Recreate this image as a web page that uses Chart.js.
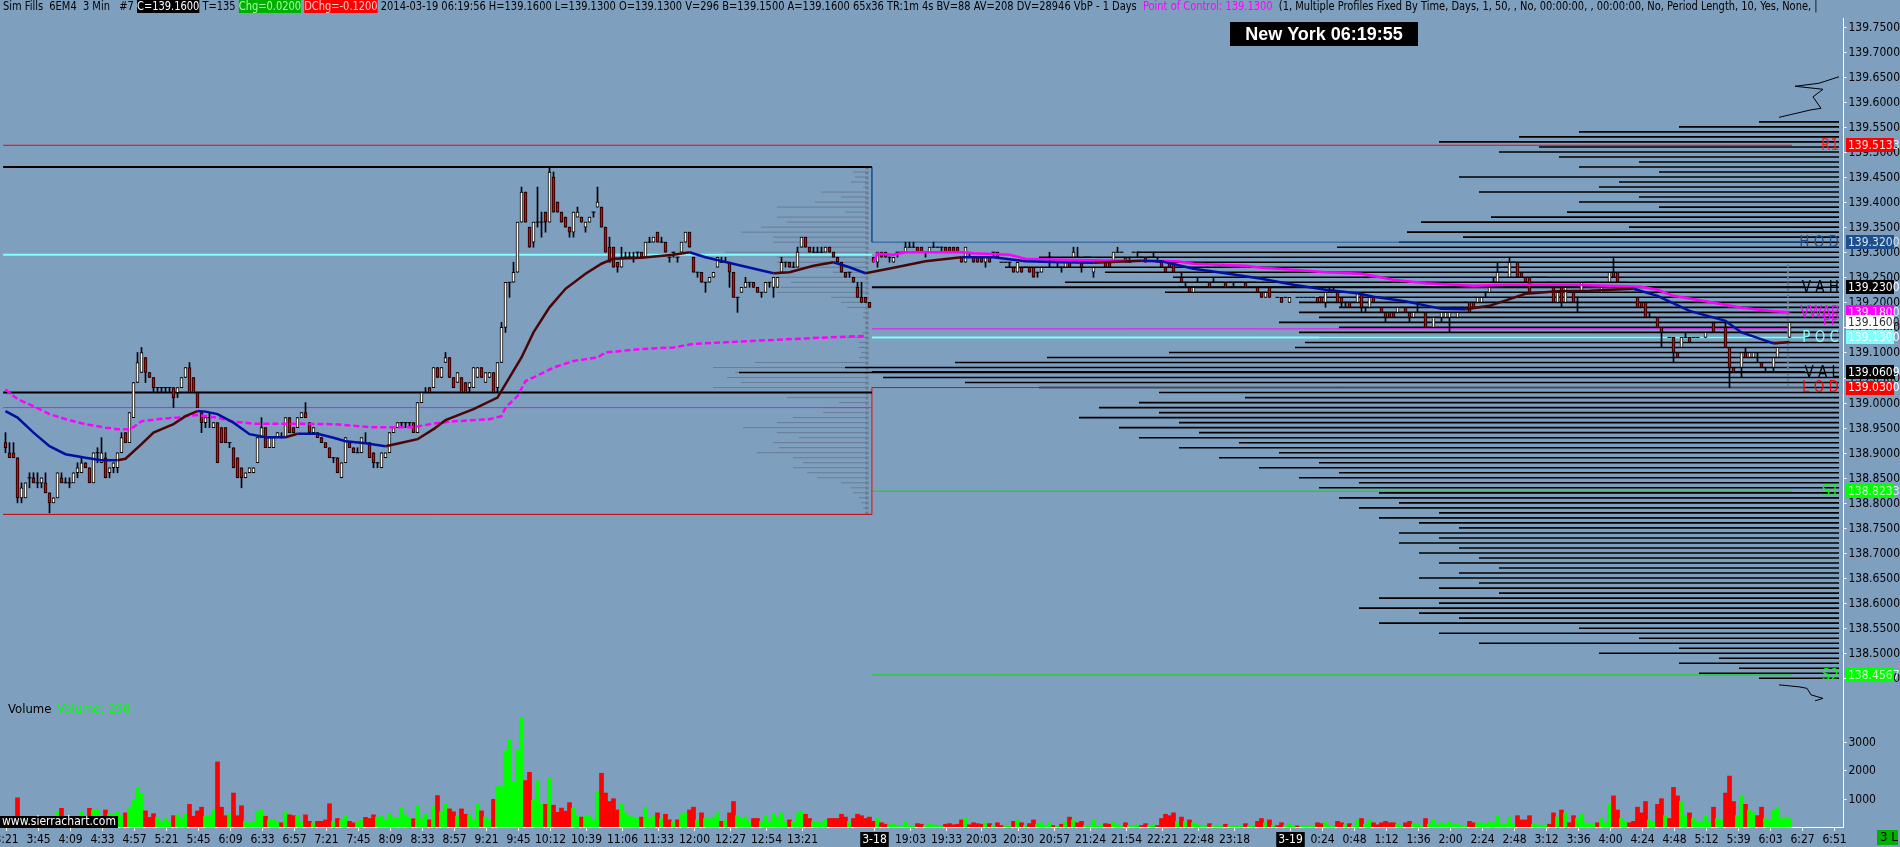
<!DOCTYPE html>
<html>
<head>
<meta charset="utf-8">
<script src="https://cdn.jsdelivr.net/npm/chart.js@4.4.1/dist/chart.umd.min.js"></script>
<style>
  html, body { margin: 0; padding: 0; background: #7f9fbf; }
  canvas { display: block; }
</style>
</head>
<body>
<canvas id="chart" width="1900" height="847"></canvas>
<script>
// prices are kept in 0.01 steps above (or below) 139.00
const BASE = 139.00;

// session 1 bars, [open, close, high, low]
const bars1 = [
  [-8,-9,-6,-10],[-10,-11,-8,-11],[-10,-11,-8,-11],[-11,-19,-11,-20],[-19,-17,-16,-20],[-19,-16,-16,-19],[-15,-15,-14,-17],[-15,-16,-14,-16],[-16,-16,-14,-17],[-16,-15,-15,-17],
  [-16,-18,-14,-18],[-18,-20,-18,-22],[-20,-19,-19,-20],[-19,-14,-14,-19],[-15,-16,-14,-16],[-16,-16,-15,-16],[-16,-16,-15,-17],[-16,-14,-14,-16],[-14,-13,-12,-15],[-14,-12,-11,-14],
  [-12,-13,-12,-13],[-13,-16,-13,-16],[-16,-10,-10,-16],[-10,-10,-9,-12],[-12,-10,-7,-12],[-11,-15,-10,-15],[-14,-13,-13,-15],[-13,-12,-12,-14],[-13,-10,-10,-14],[-10,-7,-6,-10],
  [-6,-8,-6,-8],[-8,-2,-2,-8],[-3,4,4,-3],[4,8,10,4],[6,10,11,6],[9,6,9,4],[6,5,6,5],[5,3,5,2],[3,3,3,2],[3,3,3,2],
  [3,3,3,2],[3,3,3,2],[3,1,3,-1],[2,3,3,1],[3,5,5,3],[5,7,7,5],[7,2,8,2],[5,2,5,2],[2,-1,2,-1],[-2,-4,-2,-6],
  [-4,-3,-3,-5],[-3,-3,-2,-5],[-5,-4,-4,-5],[-4,-12,-4,-12],[-5,-8,-5,-8],[-5,-8,-5,-8],[-8,-8,-8,-9],[-9,-13,-9,-13],[-11,-15,-11,-15],[-13,-15,-13,-17],
  [-15,-14,-14,-15],[-14,-13,-13,-14],[-14,-13,-13,-14],[-12,-7,-7,-12],[-7,-5,-3,-7],[-5,-9,-5,-9],[-9,-7,-7,-9],[-9,-7,-7,-9],[-7,-6,-6,-7],[-7,-7,-6,-7],
  [-7,-3,-3,-7],[-3,-6,-3,-6],[-5,-6,-5,-6],[-5,-3,-3,-5],[-3,-2,-2,-3],[-2,-3,0,-3],[-4,-6,-4,-6],[-6,-5,-5,-6],[-6,-7,-6,-7],[-7,-8,-7,-8],
  [-8,-9,-8,-9],[-9,-11,-9,-11],[-11,-11,-11,-12],[-11,-14,-11,-14],[-15,-12,-12,-15],[-12,-7,-7,-12],[-8,-9,-8,-9],[-9,-10,-9,-10],[-10,-10,-9,-10],[-10,-7,-7,-10],
  [-8,-8,-6,-8],[-8,-11,-8,-11],[-10,-12,-10,-13],[-12,-12,-12,-13],[-13,-10,-10,-13],[-11,-10,-10,-11],[-10,-6,-6,-10],[-6,-5,-5,-6],[-5,-4,-4,-5],[-4,-4,-4,-5],
  [-4,-4,-4,-5],[-4,-4,-4,-5],[-4,-6,-4,-6],[-6,0,0,-6],[0,2,2,0],[2,2,3,2],[3,2,3,2],[3,7,7,3],[7,5,7,5],[5,7,7,5],
  [8,9,10,8],[9,5,9,5],[5,3,5,3],[4,6,6,4],[5,2,5,2],[4,2,4,2],[3,4,4,2],[3,7,7,3],[5,7,7,5],[7,5,7,5],
  [4,6,6,4],[5,6,6,5],[6,2,6,2],[3,8,8,2],[8,15,16,8],[15,24,24,14],[24,24,24,21],[24,26,28,24],[26,36,36,26],[36,42,43,36],
  [42,36,42,36],[35,31,35,31],[32,36,36,31],[36,36,43,35],[36,36,38,33],[38,36,38,34],[36,46,47,36],[45,38,46,38],[40,38,40,38],[38,36,38,36],
  [37,35,37,35],[35,34,35,33],[34,38,38,33],[37,38,39,37],[37,36,37,36],[35,36,36,34],[36,37,37,36],[38,38,38,37],[39,40,43,39],[39,35,39,35],
  [35,30,35,30],[31,28,33,28],[31,27,31,27],[28,27,28,26],[27,29,31,27],[29,29,30,29],[29,29,30,29],[29,29,30,28],[30,30,30,29],[30,29,30,29],
  [29,32,32,29],[32,32,33,32],[32,33,33,32],[34,32,34,32],[32,32,33,32],[32,30,32,30],[29,29,29,28],[30,30,30,29],[29,29,29,28],[30,32,32,30],
  [32,34,34,32],[34,31,34,31],[29,26,29,26],[26,26,26,25],[26,24,26,24],[24,24,24,22],[24,25,25,24],[25,26,26,25],[27,29,29,27],[28,28,29,28],
  [28,28,29,28],[28,26,28,23],[26,21,26,21],[21,21,21,18],[22,23,23,22],[23,24,25,23],[24,24,24,23],[24,23,24,23],[23,22,23,22],[22,22,22,21],
  [22,24,24,22],[24,24,24,23],[23,25,25,21],[23,25,25,23],[26,28,29,26],[28,28,28,27],[28,27,28,27],[27,27,28,27],[27,30,31,27],[31,33,33,31],
  [33,31,33,31],[31,30,31,30],[30,30,31,30],[30,30,31,30],[30,30,31,30],[30,31,31,30],[31,30,31,30],[30,29,30,29],[29,28,29,28],[28,26,28,26],
  [26,25,26,25],[26,26,26,25],[25,24,25,24],[23,21,24,21],[21,20,24,20],[21,20,21,20],[20,19,20,19]
];

// session 2 bars (3-18 evening to 3-19 morning), [open, close, high, low]
const bars2 = [
  [29,28,29,28],[28,30,30,27],[30,29,30,29],[30,29,30,29],[29,29,29,28],[28,29,29,28],[30,30,30,29],[30,30,30,30],[30,31,32,30],[31,31,32,31],
  [31,31,32,31],[31,30,31,30],[31,30,31,30],[30,30,30,29],[30,31,31,30],[31,31,32,31],[31,31,31,31],[31,31,31,30],[31,30,31,30],[31,30,31,30],
  [31,30,31,30],[31,30,31,30],[29,28,29,28],[28,31,31,28],[29,29,30,29],[29,28,29,28],[29,28,29,28],[29,28,29,28],[28,29,29,27],[29,28,29,28],
  [30,30,30,29],[30,29,30,29],[28,28,28,28],[28,28,28,28],[28,28,28,27],[27,26,27,26],[26,28,28,26],[27,26,27,26],[27,27,27,27],[27,26,27,26],
  [27,25,27,25],[26,26,26,25],[26,27,27,26],[28,28,28,28],[29,29,30,27],[28,28,28,28],[28,28,28,27],[27,27,27,26],[27,28,28,27],[28,27,28,27],
  [29,30,31,29],[29,29,31,29],[28,27,28,26],[29,29,29,29],[29,29,29,29],[26,27,27,25],[28,28,28,28],[28,28,28,28],[28,27,28,27],[28,27,28,27],
  [28,30,30,28],[30,30,31,30],[30,30,30,30],[29,28,29,28],[28,28,29,28],[30,30,30,30],[30,30,30,29],[29,29,29,29],[29,28,29,28],[29,29,29,29],
  [29,29,30,29],[28,28,29,28],[28,27,28,27],[27,26,27,26],[28,27,28,27],[28,26,28,26],[28,28,28,28],[25,24,26,24],[24,24,24,23],[23,22,23,22],
  [22,23,23,22],[24,24,25,24],[24,24,24,24],[24,24,24,24],[24,23,24,23],[24,24,25,24],[24,24,24,24],[24,24,24,24],[24,23,24,23],[24,24,24,24],
  [24,24,24,23],[24,24,24,24],[24,24,24,24],[24,23,24,23],[24,24,24,24],[24,24,24,24],[23,22,23,22],[22,21,22,21],[21,22,22,21],[23,21,23,21],
  [22,22,22,22],[21,21,21,21],[21,20,21,20],[21,21,21,21],[20,21,21,20],[22,22,22,22],[21,21,21,21],[21,21,21,21],[21,21,21,21],[21,21,21,21],
  [21,21,21,21],[21,20,21,20],[21,20,21,20],[20,22,22,19],[22,22,23,22],[22,22,23,22],[22,20,22,20],[21,20,21,19],[20,20,20,19],[20,19,20,19],
  [20,20,20,20],[20,22,22,20],[22,19,22,18],[19,19,19,18],[19,21,21,19],[21,20,21,20],[19,19,19,19],[19,18,19,18],[18,17,18,16],[18,17,18,17],
  [18,17,18,17],[18,19,19,18],[19,19,19,19],[19,18,19,18],[18,17,18,16],[17,18,18,17],[18,18,20,18],[18,18,18,18],[18,15,18,15],[15,15,15,15],
  [15,17,17,15],[17,17,17,17],[17,18,18,16],[17,18,18,17],[17,18,18,14],[19,19,19,19],[17,18,18,17],[19,19,19,19],[20,20,20,20],[20,18,20,18],
  [20,19,20,19],[20,21,21,20],[20,21,21,20],[22,22,22,21],[22,23,23,22],[24,24,25,24],[24,26,28,24],[26,26,26,26],[27,27,27,27],[25,28,29,25],
  [28,28,28,28],[28,25,28,25],[26,25,26,25],[25,24,25,24],[25,22,25,22],[25,25,25,25],[25,25,25,25],[25,25,25,25],[25,25,25,25],[24,24,24,24],
  [23,20,23,20],[20,22,22,20],[23,20,23,19],[20,23,23,20],[22,22,22,22],[22,20,22,20],[21,21,21,18],[22,24,24,22],[24,24,24,24],[24,24,24,24],
  [24,24,24,24],[23,23,23,23],[22,23,23,22],[23,23,23,23],[24,26,26,24],[26,25,29,25],[26,24,26,24],[24,24,24,24],[24,24,24,24],[23,23,23,23],
  [22,22,22,22],[21,19,21,19],[20,19,20,19],[20,17,20,17],[17,17,18,17],[17,17,17,17],[17,15,17,15],[15,14,15,11],[14,14,14,14],[13,13,13,13],
  [13,10,13,8],[10,9,10,9],[11,13,13,11],[13,13,14,13],[13,12,13,12],[13,13,13,13],[13,13,13,13],[14,14,14,14],[13,14,14,13],[14,14,14,14],
  [16,14,16,14],[14,14,14,14],[15,15,15,15],[15,11,16,11],[11,7,11,3],[7,6,7,6],[7,7,7,7],[7,10,10,5],[10,9,11,9],[9,10,10,9],
  [9,10,10,9],[9,9,10,8],[8,7,8,7],[7,7,7,6],[7,7,7,7],[7,9,9,6],[9,11,11,9],[15,15,15,15],[15,15,15,15],[13,16,16,13]
];

// volume per bar
const vol1 = [
  200,250,300,1030,300,250,200,150,150,200, 250,350,200,520,660,200,150,300,250,520,
  200,660,600,600,350,600,460,460,540,400, 500,700,950,1370,1180,570,340,470,340,200,
  300,200,400,430,300,460,800,380,570,700, 380,380,600,2300,700,400,450,1200,400,750,
  200,150,200,560,600,380,250,250,200,150, 520,430,400,380,200,430,200,150,200,200,
  250,820,200,300,250,400,200,150,200,250, 340,300,430,350,380,250,460,350,320,660,
  430,320,290,740,300,460,250,720,1110,540, 820,640,540,380,640,450,430,250,800,570,
  350,250,980,1430,1430,2700,3080,1600,2720,3850, 1640,1930,950,1630,800,800,1730,770,520,670,
  560,860,660,400,350,380,380,250,1250,1900, 1200,900,1000,600,800,500,400,350,300,350,
  700,300,400,500,300,450,250,200,250,450, 500,600,700,250,500,300,300,350,500,200,
  250,500,900,400,300,350,200,300,300,200, 400,200,450,350,500,200,250,200,500,550,
  450,300,200,200,150,250,300,300,300,450, 350,200,300,450,400,300,350
];
const vol2 = [
  200,300,150,100,80,120,60,50,200,60, 60,120,100,60,120,80,50,60,100,120,
  80,100,250,300,80,150,120,100,150,120, 60,150,50,40,60,200,250,150,60,120,
  250,100,150,60,150,50,60,100,200,350, 250,150,200,60,50,250,60,80,120,100,
  200,80,50,150,60,50,80,50,120,60, 80,50,300,450,400,500,200,350,200,250,
  150,80,60,50,120,60,50,40,100,50, 60,40,40,120,50,40,200,300,150,250,
  60,50,150,60,100,50,40,40,50,40, 40,150,120,200,60,60,200,150,80,120,
  60,250,300,100,250,150,80,150,200,150, 150,100,60,150,200,100,120,60,300,100,
  250,80,150,100,200,80,100,60,60,200, 150,150,150,100,200,150,400,100,100,350,
  100,400,250,250,400,100,80,60,80,100, 500,350,600,500,150,400,300,450,150,100,
  100,150,300,150,800,1100,600,300,200,150, 200,700,500,900,250,200,800,1000,400,300,
  1400,1100,900,400,500,300,200,200,400,200, 700,300,250,1200,1800,900,400,1100,800,600,
  500,400,700,300,250,600,700,300,350,296
];

// moving average (bar, price)
const emaBars = [0,3,7,11,15,20,24,28,30,34,37,42,45,48,50,53,57,61,65,70,73,78,82,85,90,95,99,103,107,110,117,123,125,129,132,136,140,145,149,152,159,167,171,175,184,192,196,202,207,211,215,
  222,230,239,247,255,264,272,284,289,297,305,314,322,330,338,342,350,359,365,371,380,388,396,407,413,421,430,434,442,446];
const emaValues = [138.983,138.97,138.94,138.913,138.897,138.89,138.885,138.885,138.888,138.917,138.94,138.957,138.973,138.983,138.982,138.977,138.96,138.937,138.931,138.931,138.938,138.938,138.93,138.923,138.919,138.913,138.92,138.927,138.947,138.965,138.987,139.01,139.037,139.09,139.14,139.19,139.227,139.257,139.277,139.287,139.289,139.295,139.3,139.29,139.273,139.258,139.26,139.273,139.28,139.27,139.258,
  139.269,139.282,139.29,139.29,139.282,139.28,139.279,139.283,139.282,139.267,139.258,139.247,139.235,139.225,139.218,139.211,139.202,139.187,139.186,139.193,139.217,139.222,139.223,139.227,139.213,139.183,139.163,139.14,139.118,139.121];

// VWAP per session (bar, price)
const vwap1Bars = [0,3,7,11,15,20,25,28,31,32,34,38,43,45,48,53,57,62,70,82,91,102,107,111,121,124,125,128,130,134,137,142,148,150,159,167,172,184,192,200,215];
const vwap1Values = [139.026,139.007,138.993,138.977,138.967,138.957,138.95,138.947,138.947,138.951,138.963,138.967,138.97,138.973,138.975,138.97,138.962,138.958,138.958,138.957,138.951,138.951,138.958,138.962,138.967,138.973,138.99,139.013,139.043,139.058,139.07,139.083,139.09,139.1,139.107,139.11,139.117,139.122,139.125,139.128,139.133];
const vwap2Bars = [217,218,222,225,239,242,251,255,264,280,293,297,310,314,322,330,339,347,355,367,375,392,409,413,417,425,434,442,446];
const vwap2Values = [139.28,139.297,139.295,139.3,139.3,139.298,139.295,139.287,139.285,139.283,139.282,139.277,139.273,139.269,139.265,139.26,139.257,139.245,139.238,139.233,139.235,139.235,139.231,139.225,139.213,139.202,139.189,139.182,139.18];

// volume at price, session 1 profile: levels 139.46 down to 138.78
const prof1Top = 46;
const prof1Vol = [7,6,8,2,23,13,26,45,11,45, 40,53,63,47,47,35,71,45,45,35, 17,45,38,43,45,18,13,10,2,2,
  1,1,2,10,4,4,3,4,56,77, 66,70,63,77,40,40,14,22,22,37, 45,62,45,34,47,44,55,37,32,37, 30,25,13,8,7,4,3,2,1];
// volume at price, right profile: levels 139.56 down to 138.45
const prof2Top = 56;
const prof2Vol = [40,80,130,160,200,150,170,140,100,130, 90,190,110,120,180,100,130,90,136,174,
  209,105,216,188,220,251,351,400,340,417, 367,333,387,330,337,260,270,250,270,260,
  280,250,270,260,267,272,335,396,442,497, 550,478,437,400,340,297,350,370,340,380,
  330,360,320,350,300,330,280,310,260,290, 250,270,240,260,230,250,220,240,200,230,
  210,190,220,200,220,190,210,180,200,170, 190,210,180,200,170,230,200,240,210,190,
  230,130,200,100,180,80,120,60,80,50, 70,40];
const prof2TailTopVol = [0,10,22,8,13,9,14,30];
const prof2TailTopPrice = [139.65,139.637,139.631,139.625,139.61,139.587,139.584,139.569];
const prof2TailBotVol = [30,20,16,14,8,12];
const prof2TailBotPrice = [138.437,138.433,138.43,138.417,138.41,138.405];

// reference levels
const s1High = 139.47, s1Poc = 139.295, s1Val = 139.02, s1Pivot = 138.99, s1Low = 138.777;
const hod = 139.32, vah = 139.23, pivot = 139.147, poc = 139.13, val = 139.0609, lod = 139.03;
const r1 = 139.5133, sup1 = 138.8233, sup2 = 138.4567;
const lastBar = 446, lastHigh = 139.28;

// axis ticks and labels
const priceTicks = [138.45,138.5,138.55,138.6,138.65,138.7,138.75,138.8,138.85,138.9,138.95,139.0,139.05,139.1,139.15,139.2,139.25,139.3,139.35,139.4,139.45,139.5,139.55,139.6,139.65,139.7,139.75];
const volTicks = [1000, 2000, 3000];
const timeLabels = ['3:21','3:45','4:09','4:33','4:57','5:21','5:45','6:09','6:33','6:57','7:21','7:45','8:09','8:33','8:57','9:21','9:45','10:12','10:39','11:06','11:33','12:00','12:27','12:54','13:21','3-18','19:03','19:33','20:03','20:30','20:57','21:24','21:54','22:21','22:48','23:18','3-19','0:24','0:48','1:12','1:36','2:00','2:24','2:48','3:12','3:36','4:00','4:24','4:48','5:12','5:39','6:03','6:27','6:51'];
const timeLabelBars = [0,8,16,24,32,40,48,56,64,72,80,88,96,104,112,120,128,136,145,154,163,172,181,190,199,217,226,235,244,253,262,271,280,289,298,307,321,329,337,345,353,361,369,377,385,393,401,409,417,425,433,441,449,457];
const dateLabels = ['3-18', '3-19'];

// axis markers and line tags
const markerPrices = [139.5133, 139.32, 139.23, 139.18, 139.16, 139.13, 139.0609, 139.03, 138.8233, 138.4567];
const tagTexts = ['R1', 'H O D', 'V A H', 'VWAP', 'PP', 'P O C', 'V A L', 'L O D', 'S1', 'S2'];
const tagPrices = [139.5133, 139.32, 139.23, 139.18, 139.165, 139.13, 139.0609, 139.03, 138.8233, 138.4567];

// ---- styles ----
const BG = '#7f9fbf';
const FONT = '"Liberation Sans Narrow", "Arial Narrow", "DejaVu Sans Condensed", "Liberation Sans", sans-serif';
const UP_VOL = '#00ff00', DN_VOL = '#ff0000';
const markerStyles = [
  ['#ff0000', '#ffe0e0'], ['#1c4f8c', '#d8e4f0'], ['#000000', '#ffffff'], ['#ff00ff', '#ffe0ff'], ['#ffffff', '#303030'],
  ['#80ffff', '#ffffff'], ['#000000', '#ffffff'], ['#ff0000', '#ffffff'], ['#00ff00', '#d0ffd0'], ['#00ff00', '#d0ffd0']
];
const tagColors = ['#ff2020', '#1f4f8f', '#000000', '#ff00ff', '#ff00ff', '#80ffff', '#000000', '#ff0000', '#00ff00', '#00ff00'];

Chart.defaults.font.family = FONT;
Chart.defaults.font.size = 13;
Chart.defaults.color = '#000';

const px = v => BASE + v / 100;
const allBars = bars1.concat(bars2);
const allVol = vol1.concat(vol2);

// candles
const wickData = allBars.map((b, i) => ({ x: i, y: [px(b[3]), px(b[2])] }));
const bodyData = [], bodyColors = [], dojiData = [];
allBars.forEach((b, i) => {
  if (b[0] === b[1]) dojiData.push({ x: i, y: px(b[0]) });
  else {
    bodyData.push({ x: i, y: [px(b[0]), px(b[1])] });
    bodyColors.push(b[1] > b[0] ? '#ffffff' : '#e00000');
  }
});

// volume colours follow the bar direction
const volColors = allBars.map((b, i) => {
  if (b[1] !== b[0]) return b[1] > b[0] ? UP_VOL : DN_VOL;
  const prev = i > 0 ? allBars[i - 1][1] : b[1];
  return b[1] >= prev ? UP_VOL : DN_VOL;
});
const volData = allVol.map((v, i) => ({ x: i, y: v }));

function profileSegments(top, vols) {
  const pts = [];
  vols.forEach((v, k) => {
    const p = px(top - k);
    pts.push({ x: 0, y: p }, { x: v, y: p }, { x: v, y: null });
  });
  return pts;
}
const zip = (xs, ys) => xs.map((x, k) => ({ x: x, y: ys[k] }));

function lineSet(data, color, width, extra) {
  return Object.assign({
    type: 'line', data: data, borderColor: color, borderWidth: width,
    pointRadius: 0, fill: false, xAxisID: 'x', yAxisID: 'y', order: 8
  }, extra || {});
}

// session edges in bar units
const s1Start = -0.6, s2Start = 216.6, tagEnd = 449.9, shortEnd = 446.6;

const datasets = [
  { type: 'bar', data: volData, backgroundColor: volColors, barThickness: 4, grouped: false,
    xAxisID: 'x', yAxisID: 'yVol', order: 20 },
  lineSet(profileSegments(prof1Top, prof1Vol), '#687c94', 1, { xAxisID: 'xp1', order: 19 }),
  lineSet([{ x: 0, y: s1Low }, { x: 0, y: s1High }], '#6b7c8f', 3, { xAxisID: 'xp1', order: 19, borderDash: [3, 2] }),
  lineSet(profileSegments(prof2Top, prof2Vol), '#000000', 1.6, { xAxisID: 'xp2', order: 18 }),
  lineSet(zip(prof2TailTopVol, prof2TailTopPrice), '#000000', 1, { xAxisID: 'xp2', order: 18 }),
  lineSet(zip(prof2TailBotVol, prof2TailBotPrice), '#000000', 1, { xAxisID: 'xp2', order: 18 }),
  // session 1 levels
  lineSet([{ x: s1Start, y: s1High }, { x: s2Start, y: s1High }], '#000000', 2),
  lineSet([{ x: s1Start, y: s1Poc }, { x: s2Start, y: s1Poc }], '#80ffff', 2),
  lineSet([{ x: s1Start, y: s1Val }, { x: s2Start, y: s1Val }], '#000000', 2),
  lineSet([{ x: s1Start, y: s1Pivot }, { x: s2Start, y: s1Pivot }], '#ff00ff', 1),
  lineSet([{ x: s1Start, y: s1Low }, { x: s2Start, y: s1Low }], '#cc0000', 1),
  lineSet([{ x: s1Start, y: r1 }, { x: shortEnd, y: r1 }], '#ff0000', 1),
  // session 2 levels
  lineSet([{ x: s2Start, y: s1High }, { x: s2Start, y: hod }, { x: tagEnd, y: hod }], '#1f5a9a', 1),
  lineSet([{ x: s2Start, y: s1Low }, { x: s2Start, y: lod }, { x: tagEnd, y: lod }], '#ff0000', 1),
  lineSet([{ x: s2Start, y: vah }, { x: tagEnd, y: vah }], '#000000', 2),
  lineSet([{ x: s2Start, y: val }, { x: tagEnd, y: val }], '#000000', 2),
  lineSet([{ x: s2Start, y: poc }, { x: tagEnd, y: poc }], '#80ffff', 2),
  lineSet([{ x: s2Start, y: pivot }, { x: shortEnd, y: pivot }], '#ff00ff', 1),
  lineSet([{ x: s2Start, y: sup1 }, { x: shortEnd, y: sup1 }], '#00e000', 1),
  lineSet([{ x: s2Start, y: sup2 }, { x: shortEnd, y: sup2 }], '#00e000', 1),
  lineSet([{ x: lastBar - 0.4, y: lod }, { x: lastBar - 0.4, y: lastHigh }], '#6b7b8b', 2, { borderDash: [3, 3] }),
  // candles
  { type: 'bar', data: wickData, backgroundColor: '#000', barThickness: 1, grouped: false,
    xAxisID: 'x', yAxisID: 'y', order: 6 },
  { type: 'bar', data: bodyData, backgroundColor: bodyColors, borderColor: '#000', borderWidth: 1,
    borderSkipped: false, barThickness: 3, grouped: false, xAxisID: 'x', yAxisID: 'y', order: 5 },
  { type: 'scatter', data: dojiData, pointStyle: 'line', pointRadius: 2, borderColor: '#000',
    borderWidth: 1, xAxisID: 'x', yAxisID: 'y', order: 4 },
  // studies
  lineSet(zip(vwap1Bars, vwap1Values), '#ff00ff', 2.5, { order: 2, borderDash: [6, 3] }),
  lineSet(zip(vwap2Bars, vwap2Values), '#ff00ff', 2.5, { order: 2 }),
  lineSet(zip(emaBars, emaValues), '#0000a0', 2.5, { order: 1,
    segment: { borderColor: c => c.p1.parsed.y > c.p0.parsed.y ? '#4a0606' : '#0010a0' } })
];

function drawHeader(c) {
  const parts = [
    ['Sim Fills  6EM4  3 Min   #7 ', '#000', null],
    ['C=139.1600', '#ffffff', '#000000'],
    [' T=135 ', '#000', null],
    ['Chg=0.0200', '#a8ffa8', '#00b000'],
    [' ', '#000', null],
    ['DChg=-0.1200', '#ffd0d0', '#ff0000'],
    [' 2014-03-19 06:19:56 H=139.1600 L=139.1300 O=139.1300 V=296 B=139.1500 A=139.1600 65x36 TR:1m 4s BV=88 AV=208 DV=28946 VbP - 1 Days  ', '#000', null],
    ['Point of Control: 139.1300', '#ff00ff', null],
    ['  (1, Multiple Profiles Fixed By Time, Days, 1, 50, , No, 00:00:00, , 00:00:00, No, Period Length, 10, Yes, None, |', '#000', null]
  ];
  c.save();
  c.beginPath(); c.rect(0, 0, 1843, 18); c.clip();
  c.font = '13px ' + FONT;
  c.textBaseline = 'middle';
  let before = 0;
  for (let k = 0; k < 7; k++) before += c.measureText(parts[k][0]).width;
  const sx = (1143 - 3) / before;
  c.scale(sx, 1);
  let x = 3 / sx;
  parts.forEach(p => {
    const w = c.measureText(p[0]).width;
    if (p[2]) { c.fillStyle = p[2]; c.fillRect(x, 0, w, 13); }
    c.fillStyle = p[1];
    c.fillText(p[0], x, 7);
    x += w;
  });
  c.restore();
}

function drawValueAxis(c, scale, ticks, fmt, x0) {
  c.textAlign = 'left';
  c.textBaseline = 'middle';
  c.fillStyle = '#000';
  c.strokeStyle = '#fff';
  ticks.forEach(v => {
    const y = Math.round(scale.getPixelForValue(v)) + 0.5;
    c.beginPath(); c.moveTo(x0, y); c.lineTo(x0 + 3, y); c.stroke();
    c.fillText(fmt(v), x0 + 5, y);
  });
}

const overlay = {
  id: 'overlay',
  beforeDraw(chart) {
    const c = chart.ctx;
    c.save(); c.fillStyle = BG; c.fillRect(0, 0, chart.width, chart.height); c.restore();
  },
  afterDraw(chart) {
    const c = chart.ctx, xs = chart.scales.x, ys = chart.scales.y, yv = chart.scales.yVol, area = chart.chartArea;
    drawHeader(c);
    c.save();

    // value axes on the right
    const ax = Math.round(area.right) + 0.5;
    c.strokeStyle = '#fff'; c.lineWidth = 1;
    c.beginPath(); c.moveTo(ax, 18); c.lineTo(ax, area.bottom + 1); c.stroke();
    c.font = '12px ' + FONT;
    drawValueAxis(c, ys, priceTicks, v => v.toFixed(4), ax);
    drawValueAxis(c, yv, volTicks, v => String(v), ax);

    // clock
    c.fillStyle = '#000';
    c.fillRect(1230, 22, 188, 24);
    c.fillStyle = '#fff';
    c.font = 'bold 18px "Liberation Sans", Arial, sans-serif';
    c.textAlign = 'center'; c.textBaseline = 'middle';
    c.fillText('New York 06:19:55', 1324, 35);

    // line tags next to the price axis
    c.font = '15px ' + FONT;
    c.textAlign = 'right';
    tagTexts.forEach((t, k) => {
      c.fillStyle = tagColors[k];
      c.fillText(t, area.right - 4, ys.getPixelForValue(tagPrices[k]) + 1);
    });

    // markers on the price axis
    c.font = '12px ' + FONT;
    c.textAlign = 'left';
    markerPrices.forEach((p, k) => {
      const y = ys.getPixelForValue(p);
      c.fillStyle = markerStyles[k][0];
      c.fillRect(area.right + 3, Math.round(y - 7), 48, 14);
      c.fillStyle = markerStyles[k][1];
      c.fillText(p.toFixed(4), area.right + 5, y + 0.5);
    });

    // volume pane title
    c.font = '13px ' + FONT;
    c.fillStyle = '#000';
    c.fillText('Volume', 8, 710);
    c.fillStyle = '#00ff00';
    c.fillText('Volume: 296', 8 + c.measureText('Volume ').width + 2, 710);

    // time axis
    c.strokeStyle = '#fff'; c.lineWidth = 1;
    c.beginPath(); c.moveTo(0, area.bottom + 0.5); c.lineTo(area.right, area.bottom + 0.5); c.stroke();
    c.textAlign = 'center';
    c.font = '12px ' + FONT;
    timeLabels.forEach((t, k) => {
      const x = Math.round(xs.getPixelForValue(timeLabelBars[k])) + 0.5;
      c.strokeStyle = '#fff';
      c.beginPath(); c.moveTo(x, area.bottom); c.lineTo(x, area.bottom + 4); c.stroke();
      if (dateLabels.includes(t)) {
        const w = c.measureText(t).width + 4;
        c.fillStyle = '#000'; c.fillRect(x - w / 2, area.bottom + 5, w, 15);
        c.fillStyle = '#fff';
      } else c.fillStyle = '#000';
      c.fillText(t, x, area.bottom + 13);
    });

    // footer boxes
    c.fillStyle = '#000'; c.fillRect(0, 816, 118, 12);
    c.fillStyle = '#fff'; c.textAlign = 'left'; c.font = '12px ' + FONT;
    c.fillText('www.sierrachart.com', 2, 822);
    c.fillStyle = '#00b000'; c.fillRect(1877, 830, 21, 15);
    c.fillStyle = '#000'; c.font = '13px ' + FONT;
    c.fillText('3 L', 1880, 838);
    c.restore();
  }
};

new Chart(document.getElementById('chart'), {
  type: 'bar',
  data: { datasets: datasets },
  options: {
    responsive: false,
    animation: false,
    events: [],
    layout: { autoPadding: false, padding: { left: 0, right: 57, top: 20, bottom: 20 } },
    plugins: { legend: { display: false }, tooltip: { enabled: false } },
    scales: {
      x: { type: 'linear', offset: false, min: -1.375, max: 459.375, display: false },
      xp1: { type: 'linear', offset: false, reverse: true, min: -488, max: 433.5, display: false },
      xp2: { type: 'linear', offset: false, reverse: true, min: -2, max: 919.5, display: false },
      yVol: { type: 'linear', min: 0, max: 28516, display: false },
      y: { type: 'linear', min: 138.1534, max: 139.7632, display: false }
    }
  },
  plugins: [overlay]
});
</script>
</body>
</html>
